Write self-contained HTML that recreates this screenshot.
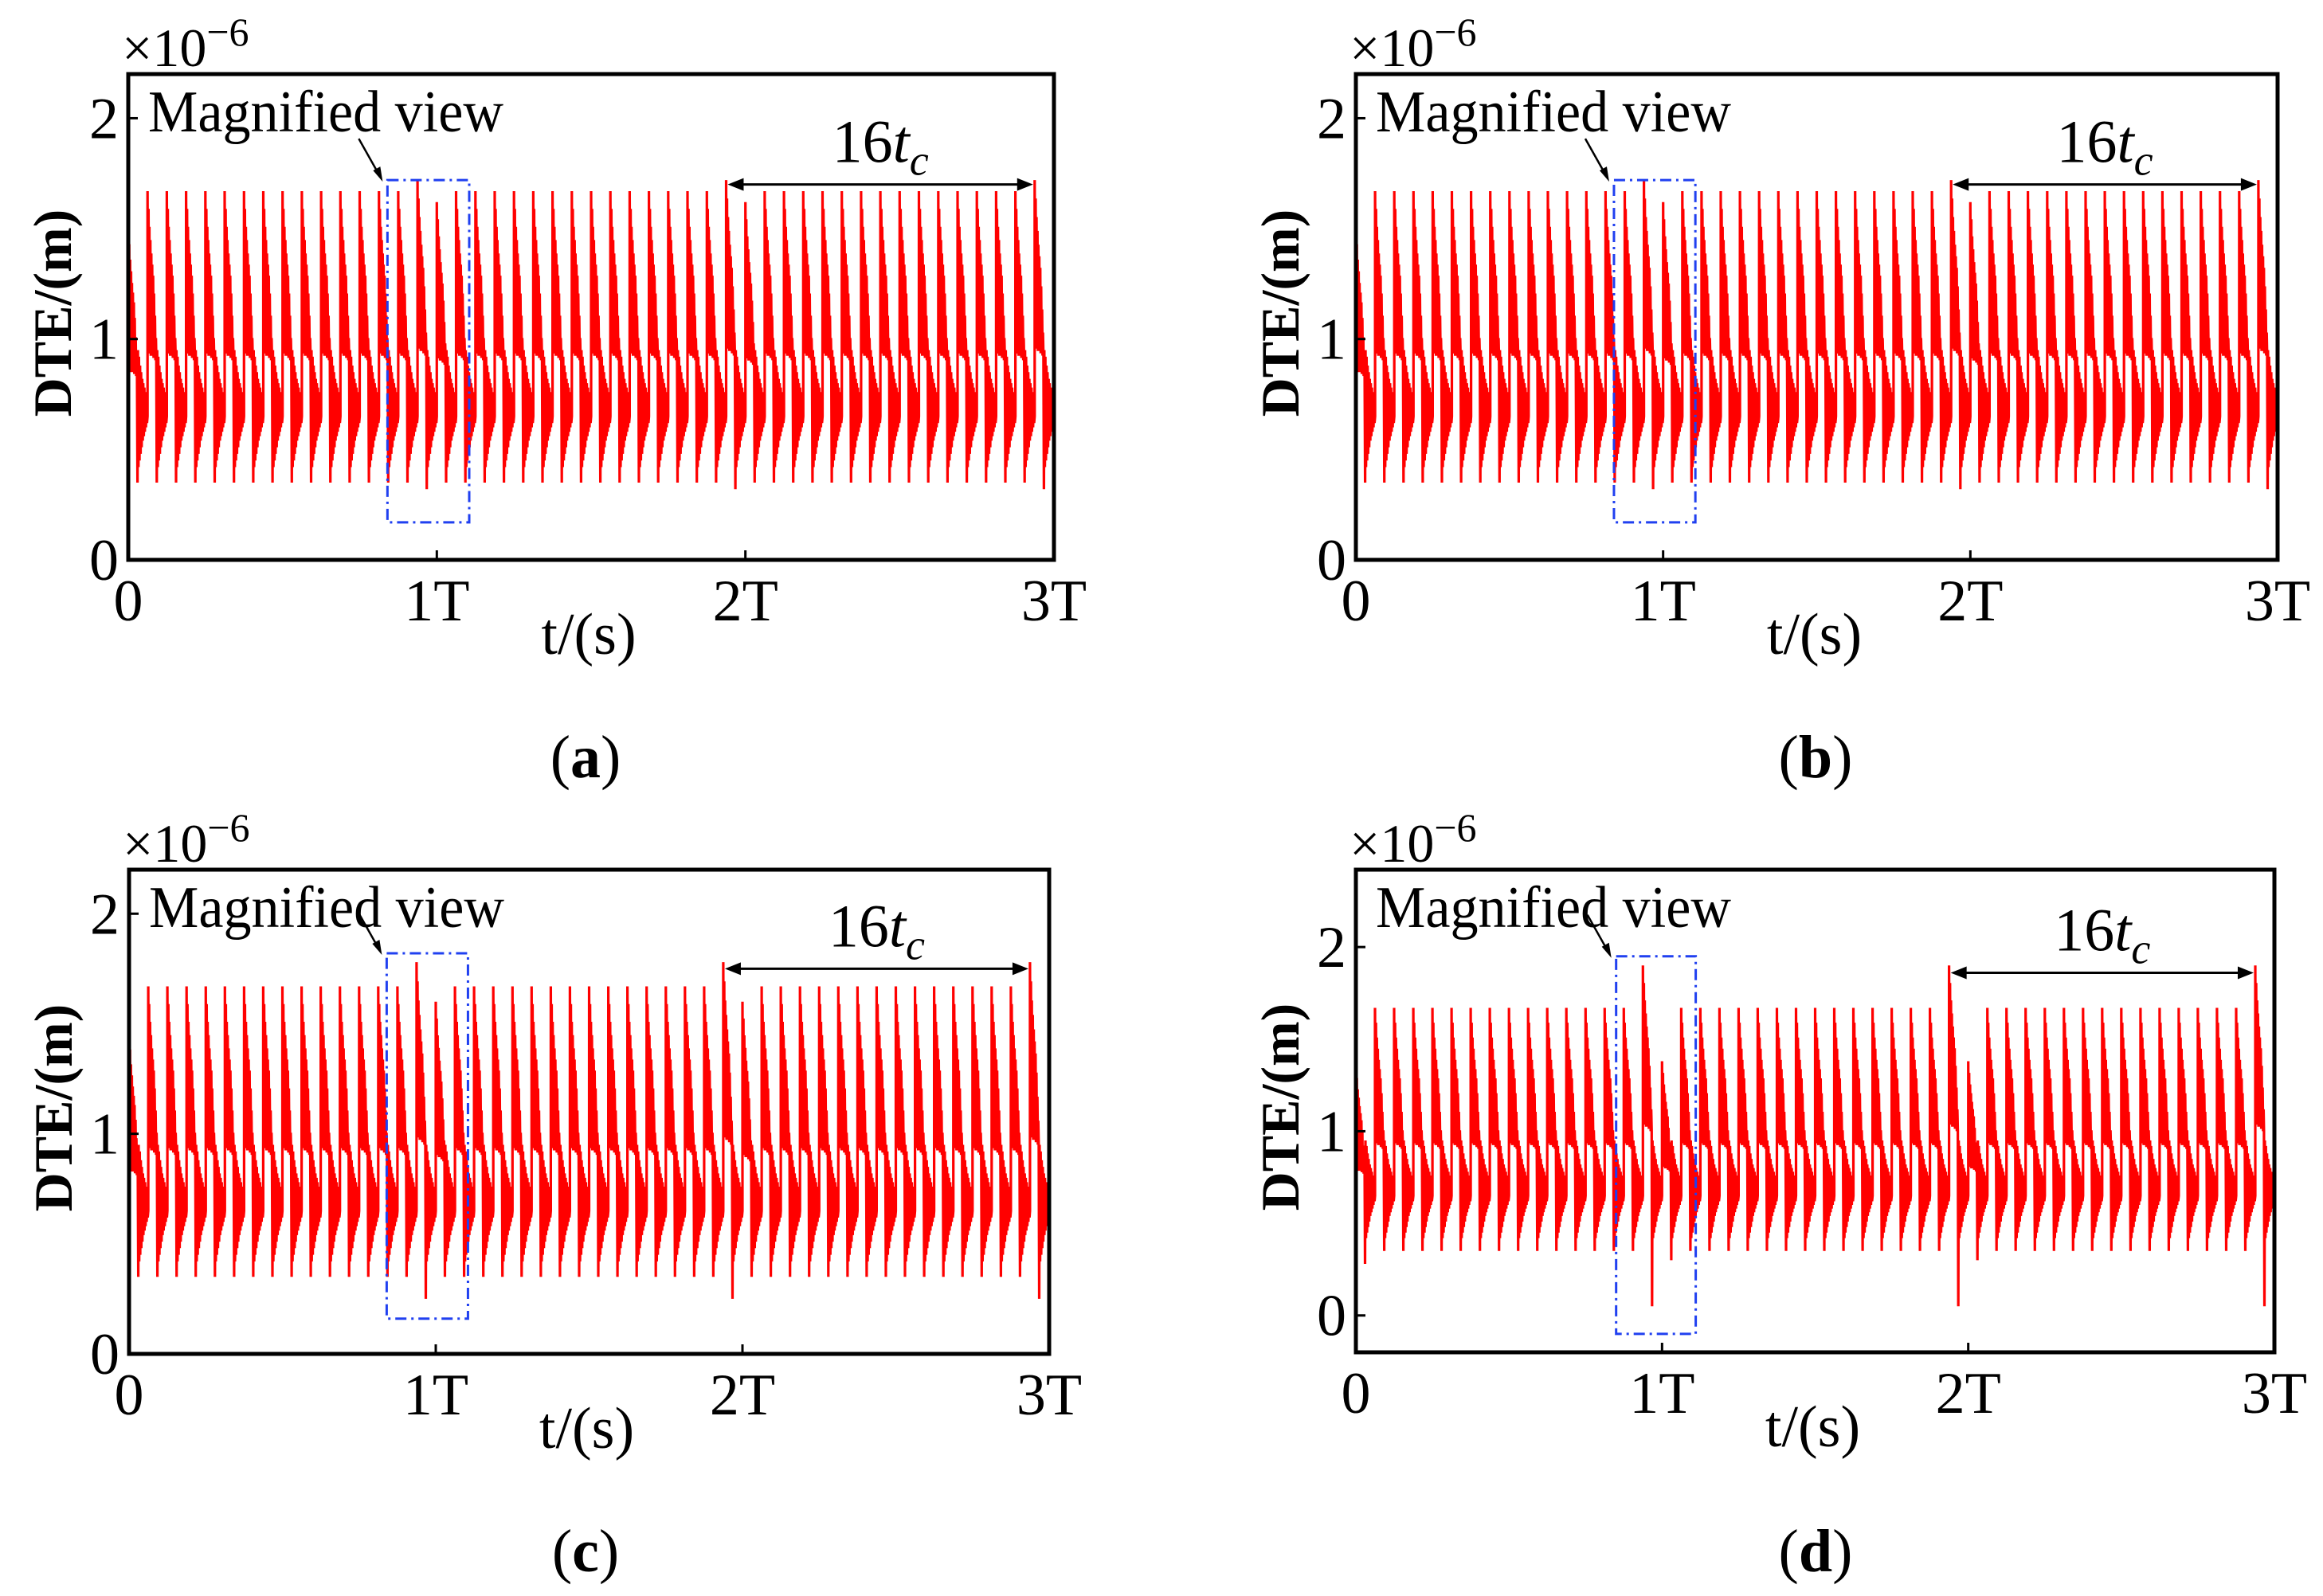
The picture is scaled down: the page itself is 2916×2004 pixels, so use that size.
<!DOCTYPE html>
<html><head><meta charset="utf-8"><style>
html,body{margin:0;padding:0;background:#fff;}
svg{display:block;}
text{font-family:"Liberation Serif",serif;fill:#000;}
</style></head>
<body>
<svg id="fig" width="2916" height="2004" viewBox="0 0 2916 2004" xmlns="http://www.w3.org/2000/svg"></svg>
<script>
// ---- data ----
const xTickValues = [0, 1, 2, 3];
const xTickLabels = ["0", "1T", "2T", "3T"];
const yTickValues = [0, 1, 2];
const yTickLabels = ["0", "1", "2"];
const cyclesPerT = 16;
// tooth shape for a nominal cycle (peak 1.66): phase 1 (after spike) and phase 2 (before next spike)
const nominalPeak = 1.66;
const troughLevel = 0.35;
const phase1Upper = [1.66,1.58,1.50,1.44,1.38,1.33,1.28,1.20,1.10,1.00];
const phase1Lower = [0.94,0.93,0.93,0.92,0.92,0.92,0.91,0.91,0.90,0.90];
const phase2Upper = [0.95,0.92,0.88,0.85,0.82,0.80,0.78,0.76,0.75];
const phase2Lower = [0.42,0.45,0.48,0.51,0.54,0.56,0.58,0.60,0.62];
const peaksA = [1.50,1.67,1.67,1.67,1.67,1.67,1.67,1.67,1.67,1.67,1.67,1.67,1.67,1.67,1.67,1.72,1.62,1.67,1.67,1.67,1.67,1.67,1.67,1.67,1.67,1.67,1.67,1.67,1.67,1.67,1.67,1.72,1.62,1.67,1.67,1.67,1.67,1.67,1.67,1.67,1.67,1.67,1.67,1.67,1.67,1.67,1.67,1.72];
const dipsA = {15:0.32, 31:0.32, 47:0.32};
const peaksB = [1.50,1.67,1.67,1.67,1.67,1.67,1.67,1.67,1.67,1.67,1.67,1.67,1.67,1.67,1.67,1.72,1.62,1.67,1.67,1.67,1.67,1.67,1.67,1.67,1.67,1.67,1.67,1.67,1.67,1.67,1.67,1.72,1.62,1.67,1.67,1.67,1.67,1.67,1.67,1.67,1.67,1.67,1.67,1.67,1.67,1.67,1.67,1.72];
const dipsB = {15:0.32, 31:0.32, 47:0.32};
const peaksC = [1.45,1.67,1.67,1.67,1.67,1.67,1.67,1.67,1.67,1.67,1.67,1.67,1.67,1.67,1.67,1.78,1.60,1.67,1.67,1.67,1.67,1.67,1.67,1.67,1.67,1.67,1.67,1.67,1.67,1.67,1.67,1.78,1.60,1.67,1.67,1.67,1.67,1.67,1.67,1.67,1.67,1.67,1.67,1.67,1.67,1.67,1.67,1.78];
const dipsC = {15:0.25, 31:0.25, 47:0.25};
const peaksD = [1.35,1.67,1.67,1.67,1.67,1.67,1.67,1.67,1.67,1.67,1.67,1.67,1.67,1.67,1.67,1.90,1.38,1.67,1.67,1.67,1.67,1.67,1.67,1.67,1.67,1.67,1.67,1.67,1.67,1.67,1.67,1.90,1.38,1.67,1.67,1.67,1.67,1.67,1.67,1.67,1.67,1.67,1.67,1.67,1.67,1.67,1.67,1.90];
const dipsD = {0:0.28, 15:0.05, 16:0.30, 31:0.05, 32:0.30, 47:0.05};
const panelLabels = ["a", "b", "c", "d"];

// ---- layout ----
const NS = "http://www.w3.org/2000/svg";
const svg = document.getElementById("fig");
function mk(tag, attrs, parent) {
  const e = document.createElementNS(NS, tag);
  for (const k in attrs) e.setAttribute(k, attrs[k]);
  (parent || svg).appendChild(e);
  return e;
}
const panels = [
  {L:161, R:1323, T:93,  B:703,  ymin:0,    ymax:2.2,  peaks:peaksA, dips:dipsA, box:[0.84,1.105,1.72,0.17], arrowY:1.70, cap:[735,952]},
  {L:1702,R:2859, T:93,  B:703,  ymin:0,    ymax:2.2,  peaks:peaksB, dips:dipsB, box:[0.84,1.105,1.72,0.17], arrowY:1.70, cap:[2279,952]},
  {L:162, R:1317, T:1092,B:1700, ymin:0,    ymax:2.2,  peaks:peaksC, dips:dipsC, box:[0.84,1.105,1.82,0.16], arrowY:1.75, cap:[735,1949]},
  {L:1702,R:2855, T:1092,B:1698, ymin:-0.2, ymax:2.42, peaks:peaksD, dips:dipsD, box:[0.85,1.11,1.95,-0.10], arrowY:1.86, cap:[2279,1949]}
];

panels.forEach((P, pi) => {
  const g = mk("g", {});
  
  
  const sx = v => P.L + v / 3 * (P.R - P.L);
  const sy = v => P.B - (v - P.ymin) / (P.ymax - P.ymin) * (P.B - P.T);
  const cid = "clip" + pi;
  const cp = mk("clipPath", {id: cid}, g);
  mk("rect", {x:P.L, y:P.T, width:P.R-P.L, height:P.B-P.T}, cp);

  let d = "";
  const w = 1 / cyclesPerT;
  const pt = (x, v) => "L" + sx(x).toFixed(1) + "," + sy(v).toFixed(1);
  for (let k = 0; k < P.peaks.length; k++) {
    const x0 = k * w, pk = P.peaks[k];
    const sc = v => troughLevel + (v - troughLevel) * (pk - troughLevel) / (nominalPeak - troughLevel);
    if (k === 0) d += "M" + sx(0).toFixed(1) + "," + sy(0.7).toFixed(1);
    d += pt(x0, 0.65) + pt(x0, pk);
    const n1 = phase1Upper.length;
    for (let i = 0; i < n1; i++) {
      const u = 0.48 * i / n1;
      d += pt(x0 + u * w, sc(phase1Upper[i]));
      d += pt(x0 + (u + 0.48 / n1 / 2) * w, sc(phase1Lower[i]));
    }
    const dip = P.dips[k] !== undefined ? P.dips[k] : troughLevel;
    d += pt(x0 + 0.48 * w, dip);
    const n2 = phase2Upper.length;
    for (let i = 0; i < n2; i++) {
      const u = 0.50 + 0.50 * i / n2;
      d += pt(x0 + u * w, phase2Upper[i]);
      d += pt(x0 + (u + 0.50 / n2 / 2) * w, phase2Lower[i]);
    }
  }
  const line = mk("path", {d:d, fill:"none", stroke:"#ff0000", "stroke-width":3.2, "stroke-linejoin":"miter", "clip-path":"url(#"+cid+")"}, g);
  
  

  const fr = mk("rect", {x:P.L, y:P.T, width:P.R-P.L, height:P.B-P.T, fill:"none", stroke:"#000", "stroke-width":5}, g);
  
  

  xTickValues.forEach((v, i) => {
    mk("line", {x1:sx(v), x2:sx(v), y1:P.B, y2:P.B-12, stroke:"#000", "stroke-width":3}, g);
    const t = mk("text", {x:sx(v), y:P.B+76, "text-anchor":"middle", "font-size":74}, g);
    t.textContent = xTickLabels[i];
    
    
  });
  yTickValues.forEach((v, i) => {
    mk("line", {x1:P.L, x2:P.L+12, y1:sy(v), y2:sy(v), stroke:"#000", "stroke-width":3}, g);
    const t = mk("text", {x:P.L-12, y:sy(v)+25, "text-anchor":"end", "font-size":74}, g);
    t.textContent = yTickLabels[i];
    
    
  });
  const ex = mk("text", {x:P.L-8, y:P.T-10, "font-size":68}, g);
  
  
  ex.innerHTML = '×10<tspan dy="-26" font-size="50">−6</tspan>';

  const xt = mk("text", {x:(P.L+P.R)/2 - 3, y:P.B+118, "text-anchor":"middle", "font-size":74}, g);
  xt.textContent = "t/(s)";
  
  
  const cy = (P.T + P.B) / 2 - 5;
  const yt = mk("text", {x:P.L-72, y:cy, "text-anchor":"middle", "font-size":68, "font-weight":"bold", transform:"rotate(-90 "+(P.L-72)+" "+cy+")"}, g);
  yt.textContent = "DTE/(m)";
  
  

  const b = P.box;
  const bx = mk("rect", {x:sx(b[0]), y:sy(b[2]), width:sx(b[1])-sx(b[0]), height:sy(b[3])-sy(b[2]), fill:"none", stroke:"#2040f0", "stroke-width":3, "stroke-dasharray":"14,6,3,6"}, g);
  
  
  const mt = mk("text", {x:P.L+25, y:P.T+72, "font-size":74, textLength:446, lengthAdjust:"spacingAndGlyphs"}, g);
  mt.textContent = "Magnified view";
  
  
  const tx = sx(b[0]) - 6, ty = sy(b[2]) + 2;
  mk("line", {x1:tx-30, y1:ty-54, x2:tx-3, y2:ty-6, stroke:"#000", "stroke-width":2.5}, g);
  mk("polygon", {points:tx+","+ty+" "+(tx-12)+","+(ty-14)+" "+(tx-3)+","+(ty-19), fill:"#000"}, g);

  const ax1 = sx(31 * w) + 2, ax2 = sx(47 * w) - 2, ay = sy(P.arrowY);
  const arr = mk("g", {}, g);
  
  
  mk("line", {x1:ax1+14, x2:ax2-14, y1:ay, y2:ay, stroke:"#000", "stroke-width":3}, arr);
  mk("polygon", {points:ax1+","+ay+" "+(ax1+20)+","+(ay-8)+" "+(ax1+20)+","+(ay+8), fill:"#000"}, arr);
  mk("polygon", {points:ax2+","+ay+" "+(ax2-20)+","+(ay-8)+" "+(ax2-20)+","+(ay+8), fill:"#000"}, arr);
  const tc = mk("text", {x:(ax1+ax2)/2, y:ay-28, "text-anchor":"middle", "font-size":76}, g);
  tc.innerHTML = '16<tspan font-style="italic">t</tspan><tspan font-style="italic" font-size="54" dy="16">c</tspan>';
  
  

  const cap = mk("text", {x:P.cap[0], y:P.cap[1]+24, "text-anchor":"middle", "font-size":76}, g);
  cap.innerHTML = '(<tspan font-weight="bold">' + panelLabels[pi] + '</tspan>)';
  
  
});
</script>
</body></html>
